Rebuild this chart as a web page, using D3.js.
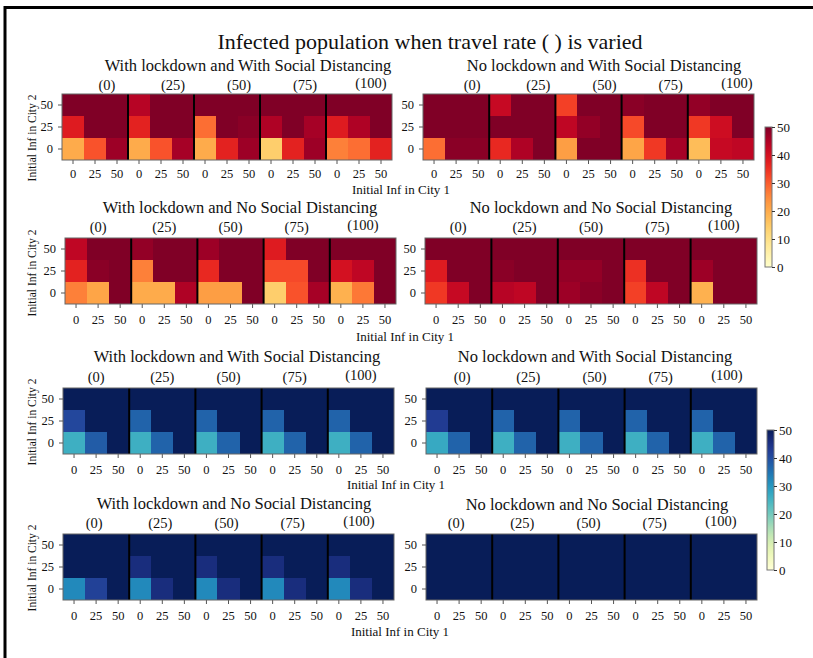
<!DOCTYPE html>
<html>
<head>
<meta charset="utf-8">
<script src="https://cdn.jsdelivr.net/npm/d3@7"></script>
<style>
  body { margin: 0; background: #fff; }
  svg text { font-family: "Liberation Serif", "Times New Roman", serif; fill: #111; }
</style>
</head>
<body>
<div id="vis-container"></div>
<script>
// travel rates (one small heatmap each), infection levels on both axes
var travelRates = ["(0)", "(25)", "(50)", "(75)", "(100)"];
var infLevels   = [0, 25, 50];   // Initial Inf in City 1 (columns)
var rowLevels   = [50, 25, 0];   // Initial Inf in City 2 (rows, top to bottom)
var cbarTicks   = [0, 10, 20, 30, 40, 50];

var mainTitle = "Infected population when travel rate ( ) is varied";
var xLabel = "Initial Inf in City 1";
var yLabel = "Initial Inf in City 2";
var panelTitles = [
  "With lockdown and With Social Distancing",
  "No lockdown and With Social Distancing",
  "With lockdown and No Social Distancing",
  "No lockdown and No Social Distancing"
];

// values per travel rate: rows City2 = 50, 25, 0 ; columns City1 = 0, 25, 50
var lockSDRed = [
  [[50, 50, 50], [38, 50, 50], [20, 31, 47]],
  [[44, 50, 50], [37, 50, 50], [20, 31, 46]],
  [[50, 50, 50], [28, 50, 49], [20, 37, 47]],
  [[50, 50, 50], [45, 50, 46], [14, 37, 47]],
  [[50, 50, 50], [38, 45, 50], [26, 28, 37]]
];
var noLockSDRed = [
  [[50, 50, 50], [50, 50, 50], [28, 49, 49]],
  [[42, 50, 50], [50, 50, 50], [36, 45, 50]],
  [[33, 50, 50], [43, 48, 50], [22, 50, 50]],
  [[49, 50, 50], [32, 50, 50], [21, 34, 46]],
  [[48, 50, 50], [34, 41, 50], [17, 42, 43]]
];
var lockNoSDRed = [
  [[43, 50, 50], [37, 49, 50], [26, 21, 50]],
  [[48, 50, 50], [26, 50, 50], [20, 20, 45]],
  [[47, 50, 50], [36, 50, 50], [22, 22, 50]],
  [[38, 50, 50], [32, 32, 50], [14, 31, 46]],
  [[50, 50, 50], [40, 43, 50], [19, 27, 50]]
];
var noLockNoSDRed = [
  [[50, 50, 50], [38, 50, 50], [34, 42, 50]],
  [[50, 50, 50], [49, 50, 50], [44, 43, 50]],
  [[50, 50, 50], [48, 48, 50], [47, 49, 50]],
  [[50, 50, 50], [35, 50, 50], [33, 43, 50]],
  [[50, 50, 50], [47, 50, 50], [19, 50, 50]]
];

var lockSDBlue = [
  [[50, 50, 50], [41, 50, 50], [26, 38, 50]],
  [[50, 50, 50], [37, 50, 50], [26, 37, 50]],
  [[50, 50, 50], [37, 50, 50], [26, 37, 50]],
  [[50, 50, 50], [37, 50, 50], [26, 37, 50]],
  [[50, 50, 50], [37, 50, 50], [26, 37, 50]]
];
var noLockSDBlue = [
  [[50, 50, 50], [43, 50, 50], [27, 37, 50]],
  [[50, 50, 50], [37, 50, 50], [26, 37, 50]],
  [[50, 50, 50], [37, 50, 50], [26, 37, 50]],
  [[50, 50, 50], [37, 50, 50], [26, 37, 50]],
  [[50, 50, 50], [37, 50, 50], [26, 37, 50]]
];
var lockNoSDBlue = [
  [[50, 50, 50], [50, 50, 50], [32, 42, 50]],
  [[50, 50, 50], [46, 50, 50], [32, 46, 50]],
  [[50, 50, 50], [46, 50, 50], [32, 46, 50]],
  [[50, 50, 50], [46, 50, 50], [32, 46, 50]],
  [[50, 50, 50], [46, 50, 50], [32, 46, 50]]
];
var noLockNoSDBlue = [
  [[50, 50, 50], [50, 50, 50], [50, 50, 50]],
  [[50, 50, 50], [50, 50, 50], [50, 50, 50]],
  [[50, 50, 50], [50, 50, 50], [50, 50, 50]],
  [[50, 50, 50], [50, 50, 50], [50, 50, 50]],
  [[50, 50, 50], [50, 50, 50], [50, 50, 50]]
];

var width = 813, height = 658;

var redColor  = d3.scaleSequential(d3.interpolateYlOrRd).domain([0, 50]);
var blueColor = d3.scaleSequential(d3.interpolateYlGnBu).domain([0, 50]);

// panel placement (the figure is a paste-up, so each panel sits a little differently)
var panels = [
  { data: lockSDRed,      color: redColor,  title: 0, x0: 62,  x1: 392, y0: 94,  y1: 160, tx: 248, ty: 71,  sy: 90,  sdx: 12, tp: 5.5 },
  { data: noLockSDRed,    color: redColor,  title: 1, x0: 423, x1: 754, y0: 94,  y1: 160, tx: 604, ty: 71,  sy: 90,  sdx: 16, tp: 5.5 },
  { data: lockNoSDRed,    color: redColor,  title: 2, x0: 65,  x1: 396, y0: 238, y1: 304, tx: 240, ty: 213, sy: 232, sdx: 0,  tp: 7.5 },
  { data: noLockNoSDRed,  color: redColor,  title: 3, x0: 425, x1: 757, y0: 238, y1: 304, tx: 601, ty: 213, sy: 232, sdx: 0,  tp: 7.5 },
  { data: lockSDBlue,     color: blueColor, title: 0, x0: 63,  x1: 394, y0: 388, y1: 454, tx: 237, ty: 362, sy: 382, sdx: 0,  tp: 7.5 },
  { data: noLockSDBlue,   color: blueColor, title: 1, x0: 426, x1: 757, y0: 388, y1: 454, tx: 595, ty: 362, sy: 382, sdx: 3,  tp: 7.5 },
  { data: lockNoSDBlue,   color: blueColor, title: 2, x0: 63,  x1: 394, y0: 534, y1: 600, tx: 234, ty: 509, sy: 528, sdx: -2, tp: 7 },
  { data: noLockNoSDBlue, color: blueColor, title: 3, x0: 426, x1: 757, y0: 534, y1: 600, tx: 597, ty: 510, sy: 528, sdx: -3, tp: 7 }
];

var xLabelPos = [[401, 194], [405, 341], [396, 489], [400, 636]];
var yLabelPos = [[36, 138], [36, 273], [36, 422], [36, 568]];

var svg = d3.select("#vis-container")
  .append("svg")
    .attr("width", width)
    .attr("height", height);

svg.append("rect").attr("width", width).attr("height", height).attr("fill", "#fff");

// outer frame (only top and left edges show)
svg.append("path")
  .attr("d", "M5," + height + " V7.5 H" + width)
  .attr("fill", "none")
  .attr("stroke", "#000")
  .attr("stroke-width", 3);

svg.append("text")
  .attr("x", 430).attr("y", 49)
  .attr("text-anchor", "middle")
  .style("font-size", "22px")
  .text(mainTitle);

panels.forEach(function(p, pi) {
  var g = svg.append("g");

  var subScale = d3.scaleBand().domain(travelRates).range([p.x0, p.x1]);
  var yScale = d3.scaleBand().domain(rowLevels).range([p.y0, p.y1]);

  travelRates.forEach(function(rate, ri) {
    var sx = subScale(rate);
    var xScale = d3.scaleBand().domain(infLevels).range([sx, sx + subScale.bandwidth()]);

    var cells = [];
    rowLevels.forEach(function(r, i) {
      infLevels.forEach(function(c, j) {
        cells.push({ r: r, c: c, v: p.data[ri][i][j] });
      });
    });

    g.selectAll(".cell-" + ri)
      .data(cells)
      .enter().append("rect")
        .attr("x", function(d) { return Math.round(xScale(d.c)); })
        .attr("y", function(d) { return Math.round(yScale(d.r)); })
        .attr("width", function(d) { return Math.round(xScale(d.c) + xScale.bandwidth()) - Math.round(xScale(d.c)); })
        .attr("height", function(d) { return Math.round(yScale(d.r) + yScale.bandwidth()) - Math.round(yScale(d.r)); })
        .attr("shape-rendering", "crispEdges")
        .attr("fill", function(d) { return p.color(d.v); });

    // x ticks under each small heatmap
    var xAxis = d3.axisBottom(xScale).tickSize(4).tickPadding(p.tp);
    var gx = g.append("g")
      .attr("transform", "translate(0," + p.y1 + ")")
      .call(xAxis);
    gx.select(".domain").remove();
    gx.selectAll("line").attr("stroke", "#555");
    gx.selectAll("text").style("font-size", "12.5px").attr("fill", "#111");

    // travel rate label
    g.append("text")
      .attr("x", sx + subScale.bandwidth() / 2 + p.sdx)
      .attr("y", p.sy - (rate === "(100)" ? 2 : 0))
      .attr("text-anchor", "middle")
      .style("font-size", "14.5px")
      .text(rate);
  });

  // separators between travel rates
  g.selectAll(".sep")
    .data(travelRates.slice(1))
    .enter().append("line")
      .attr("x1", function(d) { return subScale(d); })
      .attr("x2", function(d) { return subScale(d); })
      .attr("y1", p.y0)
      .attr("y2", p.y1)
      .attr("stroke", "#000")
      .attr("stroke-width", 2);

  g.append("rect")
    .attr("x", p.x0).attr("y", p.y0)
    .attr("width", p.x1 - p.x0).attr("height", p.y1 - p.y0)
    .attr("fill", "none")
    .attr("stroke", "#666")
    .attr("stroke-width", 1);

  var yAxis = d3.axisLeft(yScale).tickSize(4).tickPadding(5);
  var gy = g.append("g")
    .attr("transform", "translate(" + p.x0 + ",0)")
    .call(yAxis);
  gy.select(".domain").remove();
  gy.selectAll("line").attr("stroke", "#555");
  gy.selectAll("text").style("font-size", "12.5px").attr("fill", "#111");

  g.append("text")
    .attr("x", p.tx).attr("y", p.ty)
    .attr("text-anchor", "middle")
    .style("font-size", "16.5px")
    .text(panelTitles[p.title]);
});

xLabelPos.forEach(function(pos) {
  svg.append("text")
    .attr("x", pos[0]).attr("y", pos[1])
    .attr("text-anchor", "middle")
    .style("font-size", "13px")
    .text(xLabel);
});

yLabelPos.forEach(function(pos) {
  svg.append("text")
    .attr("transform", "translate(" + pos[0] + "," + pos[1] + ") rotate(-90)")
    .attr("text-anchor", "middle")
    .style("font-size", "11.5px")
    .text(yLabel);
});

// colour bars
var defs = svg.append("defs");
var colorbars = [
  { id: "cbRed",  color: redColor,  x: 765, y0: 127, y1: 267, w: 7 },
  { id: "cbBlue", color: blueColor, x: 767, y0: 430, y1: 570, w: 7 }
];

colorbars.forEach(function(cb) {
  var grad = defs.append("linearGradient")
    .attr("id", cb.id)
    .attr("x1", 0).attr("y1", 1).attr("x2", 0).attr("y2", 0);
  grad.selectAll("stop")
    .data(d3.range(0, 1.0001, 0.05))
    .enter().append("stop")
      .attr("offset", function(d) { return d; })
      .attr("stop-color", function(d) { return cb.color(d * 50); });

  var cScale = d3.scaleLinear().domain([0, 50]).range([cb.y1, cb.y0]);

  svg.append("rect")
    .attr("x", cb.x).attr("y", cb.y0)
    .attr("width", cb.w).attr("height", cb.y1 - cb.y0)
    .attr("fill", "url(#" + cb.id + ")")
    .attr("stroke", "#777")
    .attr("stroke-width", 1);

  var gc = svg.append("g")
    .attr("transform", "translate(" + (cb.x + cb.w) + ",0)")
    .call(d3.axisRight(cScale).tickValues(cbarTicks).tickSize(3).tickPadding(2));
  gc.select(".domain").remove();
  gc.selectAll("line").attr("stroke", "#333");
  gc.selectAll("text").style("font-size", "13px").attr("fill", "#111");
});
</script>
</body>
</html>
